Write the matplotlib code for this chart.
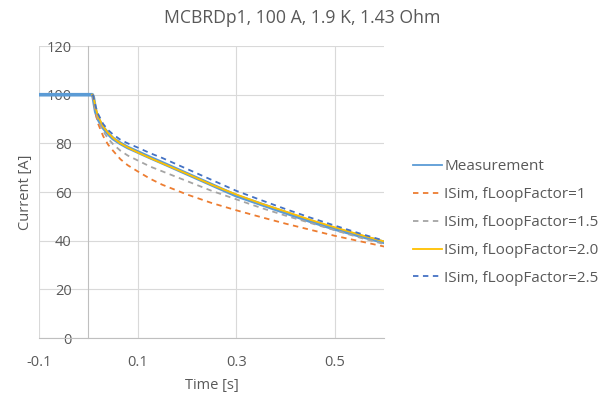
import matplotlib.pyplot as plt
from matplotlib.lines import Line2D

# time points [s]
t_meas = [-0.1, 0.0, 0.008, 0.01, 0.015, 0.02, 0.03, 0.04, 0.05, 0.065, 0.08, 0.1, 0.125,
          0.15, 0.2, 0.25, 0.3, 0.35, 0.4, 0.45, 0.5, 0.55, 0.6]
t_sim = [0.008, 0.01, 0.015, 0.02, 0.03, 0.04, 0.05, 0.065, 0.08, 0.1, 0.125,
         0.15, 0.2, 0.25, 0.3, 0.35, 0.4, 0.45, 0.5, 0.55, 0.6]

# currents [A]
i_meas = [100, 100, 100, 99, 93, 90, 86.5, 84, 82, 80, 78.3, 76.5, 74.2,
          72, 67.5, 63, 58.5, 55, 51.5, 48, 44.8, 42, 39.3]
i_f10 = [100, 99, 92, 88, 83, 79.5, 77, 73.5, 71, 68.5, 65.5,
         63, 59, 55.5, 52.5, 49.7, 47, 44.5, 42, 39.8, 37.6]
i_f15 = [100, 99, 93, 89.5, 85, 82, 79.7, 77, 75, 73, 70.5,
         68.5, 64.5, 60.5, 57, 53.5, 50.3, 47.3, 44.3, 41.3, 38.6]
i_f20 = [100, 99.5, 94.5, 91, 87, 84.3, 82.3, 80, 78.3, 76.3, 74,
         71.8, 67.5, 63, 59, 55.3, 52, 48.6, 45.5, 42.5, 39.7]
i_f25 = [100, 99.5, 95, 92, 88, 85.5, 83.7, 81.5, 80, 78.3, 76,
         74, 69.5, 65, 60.5, 56.7, 53, 49.5, 46.2, 43, 40]

labels = ['Measurement', 'ISim, fLoopFactor=1', 'ISim, fLoopFactor=1.5',
          'ISim, fLoopFactor=2.0', 'ISim, fLoopFactor=2.5']
colors = ['#5B9BD5', '#ED7D31', '#A5A5A5', '#FFC000', '#4472C4']
styles = ['-', '--', '--', '-', '--']

xticks = [-0.1, 0.1, 0.3, 0.5]
yticks = [0, 20, 40, 60, 80, 100, 120]

plt.rcParams['font.family'] = ['Open Sans', 'DejaVu Sans']
txt = '#595959'

fig = plt.figure(figsize=(6.05, 3.97), dpi=100)
ax = fig.add_axes([0.0645, 0.1486, 0.5705, 0.7354])

ax.plot(t_meas, i_meas, color=colors[0], lw=2.6, zorder=3)
sims = [i_f10, i_f15, i_f20, i_f25]
for k, vals in enumerate(sims, start=1):
    ax.plot(t_sim, vals, color=colors[k], lw=1.3, ls=styles[k],
            dashes=(3, 2.5) if styles[k] == '--' else (None, None), zorder=3 + k)

ax.set_xlim(-0.1, 0.6)
ax.set_ylim(0, 120)
ax.set_xticks(xticks)
ax.set_xticklabels(['-0.1', '0.1', '0.3', '0.5'])
ax.set_yticks(yticks)
ax.grid(True, color='#D9D9D9', lw=0.8, zorder=0)

for s in ['top', 'right']:
    ax.spines[s].set_visible(False)
ax.spines['left'].set_position(('data', 0))
ax.spines['left'].set_color('#BFBFBF')
ax.spines['bottom'].set_color('#BFBFBF')
ax.tick_params(axis='both', length=0, labelsize=10.5, colors=txt)
ax.tick_params(axis='x', pad=12)
ax.tick_params(axis='y', pad=12)

ax.set_xlabel('Time [s]', fontsize=10.5, color=txt, labelpad=6)
ax.set_ylabel('Current [A]', fontsize=10.5, color=txt, labelpad=2)
ax.yaxis.set_label_coords(-0.017, 0.5)
fig.suptitle('MCBRDp1, 100 A, 1.9 K, 1.43 Ohm', fontsize=12.7, color=txt, x=0.5, y=0.978)

handles = [Line2D([], [], color=c, lw=1.3, ls=s, dashes=(3, 2.5) if s == '--' else (None, None))
           for c, s in zip(colors, styles)]
fig.legend(handles, labels, loc='upper left', bbox_to_anchor=(0.66, 0.633),
           frameon=False, fontsize=11, labelcolor=txt, handlelength=1.9,
           handletextpad=0.15, labelspacing=0.84)

plt.savefig('out.png', dpi=100)
